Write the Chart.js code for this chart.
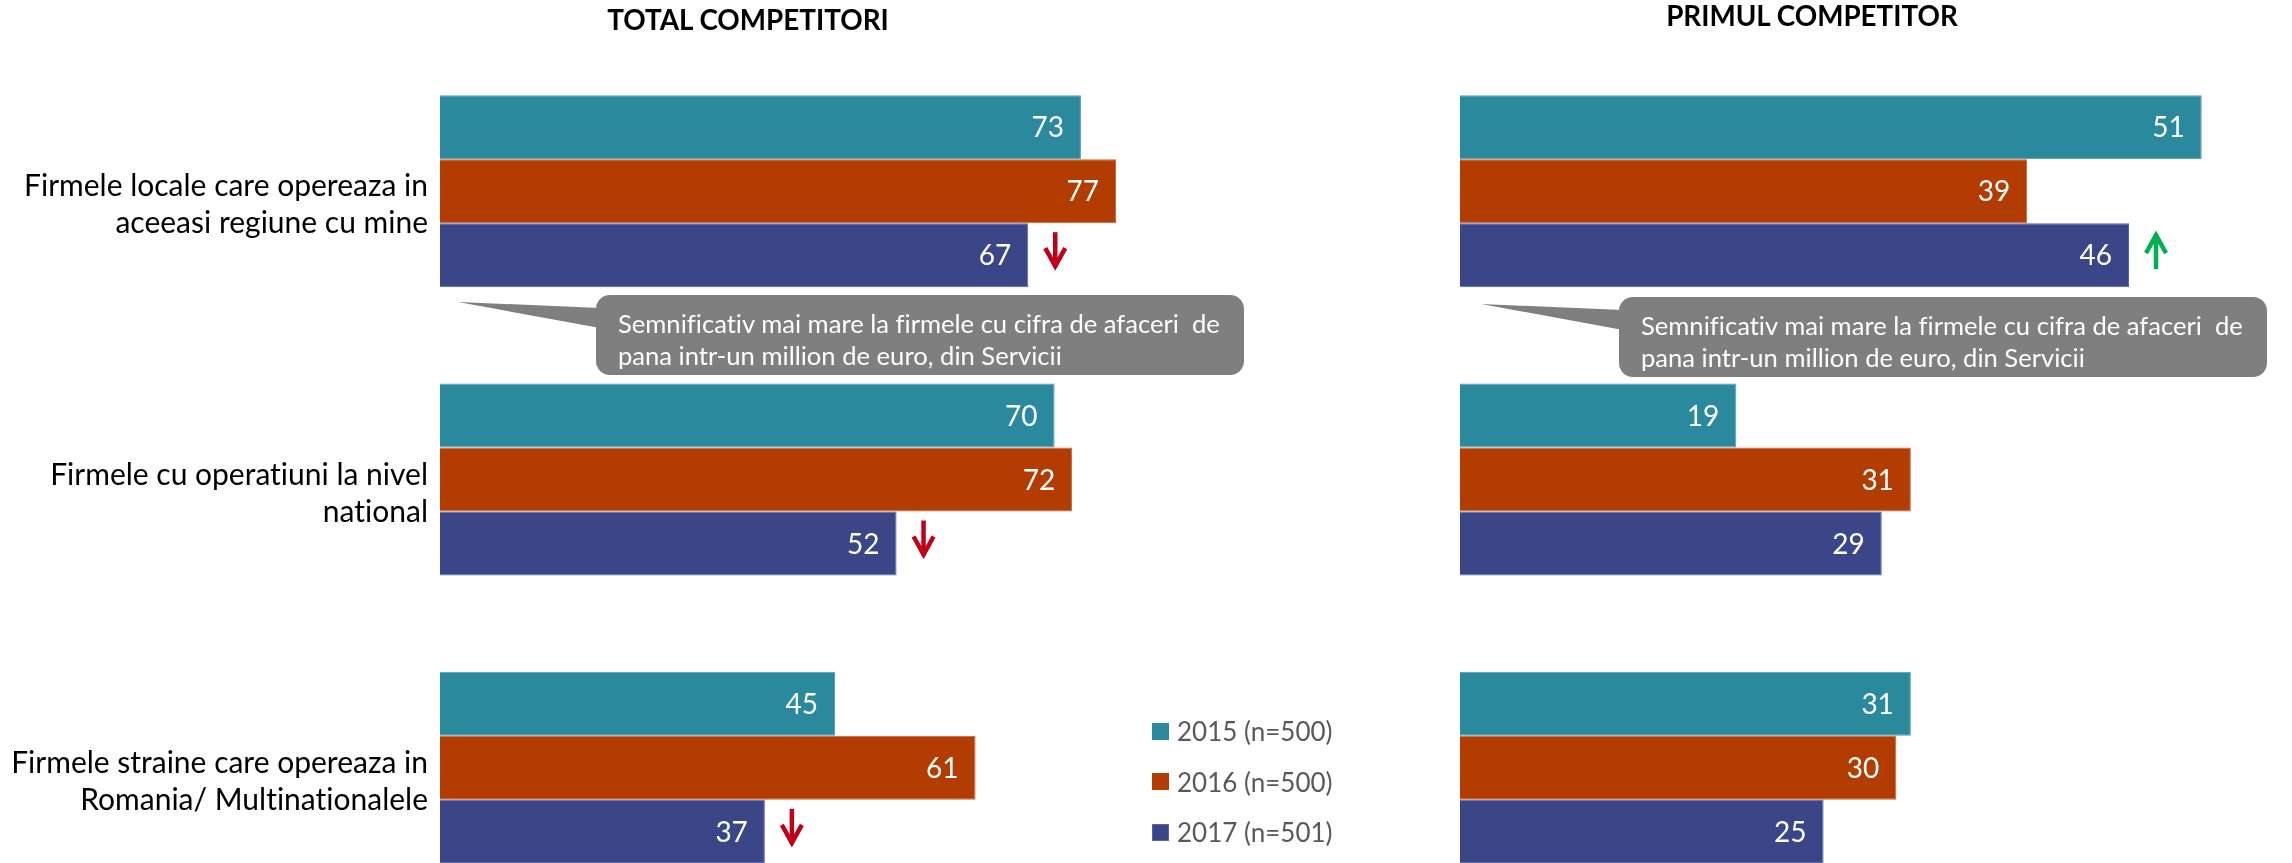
<!DOCTYPE html>
<html>
<head>
<meta charset="utf-8">
<script src="https://cdn.jsdelivr.net/npm/chart.js@4/dist/chart.umd.min.js"></script>
<style>
  html, body { margin:0; padding:0; background:#fff; width:2292px; height:863px; overflow:hidden; }
  #stage { position:relative; width:2292px; height:863px; overflow:hidden; font-family: Lato, "Open Sans", sans-serif; font-variant-ligatures: none; font-feature-settings: "liga" 0, "clig" 0; }
  canvas { position:absolute; top:0; }
  .title { position:absolute; font-weight:700; font-size:27.8px; line-height:1; color:#000; white-space:nowrap; transform:translateX(-50%); }
  .callText { position:absolute; color:#fff; font-size:25.6px; line-height:32px; white-space:pre; }
  .legend { position:absolute; left:1152px; top:706px; font-size:26px; color:#595959; }
  .legend .item { position:relative; height:50.5px; display:flex; align-items:center; white-space:nowrap; }
  .legend .sw { width:17px; height:17px; margin-right:8px; box-sizing:border-box; }
  svg { position:absolute; left:0; top:0; }
</style>
</head>
<body>
<div id="stage">
  <svg id="shapes" width="2292" height="863"></svg>
  <canvas id="left" width="1330" height="912" style="left:0px"></canvas>
  <canvas id="right" width="892" height="912" style="left:1400px"></canvas>
</div>
<script>
// ---------- DATA ----------
const categories = [
  ["Firmele locale care opereaza in", "aceeasi regiune cu mine"],
  ["Firmele cu operatiuni la nivel", "national"],
  ["Firmele straine care opereaza in", "Romania/ Multinationalele"]
];
const seriesLabels = ["2015 (n=500)", "2016 (n=500)", "2017 (n=501)"];
const total2015 = [73, 70, 45];
const total2016 = [77, 72, 61];
const total2017 = [67, 52, 37];
const primul2015 = [51, 19, 31];
const primul2016 = [39, 31, 30];
const primul2017 = [46, 29, 25];
const sigTotal2017 = ["down", "down", "down"];
const sigPrimul2017 = ["up", null, null];
const panelTitles = ["TOTAL COMPETITORI", "PRIMUL COMPETITOR"];
const calloutLines = ["Semnificativ mai mare la firmele cu cifra de afaceri  de", "pana intr-un million de euro, din Servicii"];

// ---------- STYLE ----------
const seriesColors = ["#2A899D", "#B23C02", "#3A4688"];
const seriesBorders = ["#4F9DB0", "#C0683E", "#5664AE"];
const FONT = "Lato";

function makeDatasets(a, b, c) {
  return [a, b, c].map((d, i) => ({
    label: seriesLabels[i],
    data: d,
    backgroundColor: seriesColors[i],
    borderColor: seriesBorders[i],
    borderWidth: 1,
    categoryPercentage: 0.666,
    barPercentage: 1
  }));
}

const noLigPlugin = {
  id: "noLig",
  beforeDraw(chart) {
    try { chart.ctx.textRendering = "optimizeSpeed"; } catch (e) {}
  }
};

const valueLabelPlugin = {
  id: "valueLabels",
  afterDatasetsDraw(chart) {
    const ctx = chart.ctx;
    ctx.save();
    ctx.fillStyle = "#fff";
    ctx.font = "28px " + FONT;
    ctx.textAlign = "right";
    ctx.textBaseline = "middle";
    chart.data.datasets.forEach((ds, di) => {
      chart.getDatasetMeta(di).data.forEach((bar, i) => {
        ctx.fillText(String(ds.data[i]), bar.x - 17, bar.y + 1);
      });
    });
    // significance arrows on 2017 series
    const sig = chart.options.plugins.sigArrows.flags;
    const meta = chart.getDatasetMeta(2);
    meta.data.forEach((bar, i) => {
      const f = sig[i];
      if (!f) return;
      const x = bar.x + 27;
      const top = bar.y - 23, bot = bar.y + 14;
      ctx.strokeStyle = f === "down" ? "#C00018" : "#00B050";
      ctx.lineWidth = 4.5;
      ctx.lineJoin = "miter";
      ctx.lineCap = "butt";
      ctx.beginPath();
      if (f === "down") {
        ctx.moveTo(x, top); ctx.lineTo(x, bot - 2);
        ctx.stroke();
        ctx.beginPath();
        ctx.moveTo(x - 10, bot - 21); ctx.lineTo(x, bot - 3); ctx.lineTo(x + 10, bot - 21);
      } else {
        ctx.moveTo(x, bot); ctx.lineTo(x, top + 2);
        ctx.stroke();
        ctx.beginPath();
        ctx.moveTo(x - 10, top + 21); ctx.lineTo(x, top + 3); ctx.lineTo(x + 10, top + 21);
      }
      ctx.stroke();
    });
    ctx.restore();
  }
};

function baseOptions(xmax, pad, showY, flags) {
  return {
    indexAxis: "y",
    responsive: false,
    animation: false,
    events: [],
    layout: { padding: pad },
    scales: {
      x: { display: false, min: 0, max: xmax },
      y: showY ? {
        grid: { display: false, drawTicks: false },
        border: { display: false },
        ticks: { padding: 12, color: "#000", labelOffset: 14, crossAlign: "near",
                 font: { family: FONT, size: 30, lineHeight: "37px" } },
        afterFit(s) { s.width = 440; s.paddingTop = 0; s.paddingBottom = 0; }
      } : { display: false }
    },
    plugins: { legend: { display: false }, tooltip: { enabled: false }, sigArrows: { flags } }
  };
}

function build() {
  new Chart(document.getElementById("left"), {
    type: "bar",
    data: { labels: categories, datasets: makeDatasets(total2015, total2016, total2017) },
    options: baseOptions(100, { top: 47, bottom: 0, left: 0, right: 12 }, true, sigTotal2017),
    plugins: [noLigPlugin, valueLabelPlugin]
  });
  new Chart(document.getElementById("right"), {
    type: "bar",
    data: { labels: categories, datasets: makeDatasets(primul2015, primul2016, primul2017) },
    options: baseOptions(57, { top: 47, bottom: 0, left: 60, right: 3 }, false, sigPrimul2017),
    plugins: [noLigPlugin, valueLabelPlugin]
  });

  const stage = document.getElementById("stage");
  // titles
  [[panelTitles[0], 748, 6], [panelTitles[1], 1812, 2]].forEach(([t, cx, top]) => {
    const d = document.createElement("div");
    d.className = "title"; d.textContent = t;
    d.style.left = cx + "px"; d.style.top = top + "px";
    stage.appendChild(d);
  });

  // callouts
  const svg = document.getElementById("shapes");
  const ns = "http://www.w3.org/2000/svg";
  [[0, 0], [1023, 2]].forEach(([dx, dy]) => {
    const bx = 596 + dx, by = 295 + dy, bw = 648, bh = 80, r = 14;
    const rect = document.createElementNS(ns, "rect");
    rect.setAttribute("x", bx); rect.setAttribute("y", by);
    rect.setAttribute("width", bw); rect.setAttribute("height", bh);
    rect.setAttribute("rx", r); rect.setAttribute("fill", "#7F7F7F");
    svg.appendChild(rect);
    const tail = document.createElementNS(ns, "polygon");
    tail.setAttribute("points", `${458 + dx},${302 + dy} ${bx + 4},${308 + dy} ${bx + 4},${328 + dy}`);
    tail.setAttribute("fill", "#7F7F7F");
    svg.appendChild(tail);
    const t = document.createElement("div");
    t.className = "callText";
    t.style.left = (618 + dx) + "px"; t.style.top = (307 + dy) + "px";
    t.textContent = calloutLines.join("\n");
    stage.appendChild(t);
  });

  // legend
  const lg = document.createElement("div");
  lg.className = "legend";
  seriesLabels.forEach((lab, i) => {
    const it = document.createElement("div"); it.className = "item";
    const sw = document.createElement("span"); sw.className = "sw";
    sw.style.background = seriesColors[i];
    if (i === 2) sw.style.border = "1px solid " + seriesBorders[i];
    const tx = document.createElement("span"); tx.textContent = lab;
    it.appendChild(sw); it.appendChild(tx); lg.appendChild(it);
  });
  stage.appendChild(lg);
}

if (document.fonts && document.fonts.load) {
  Promise.all([document.fonts.load("29px Lato"), document.fonts.load("bold 27px Lato")]).then(build, build);
} else build();
</script>
</body>
</html>
